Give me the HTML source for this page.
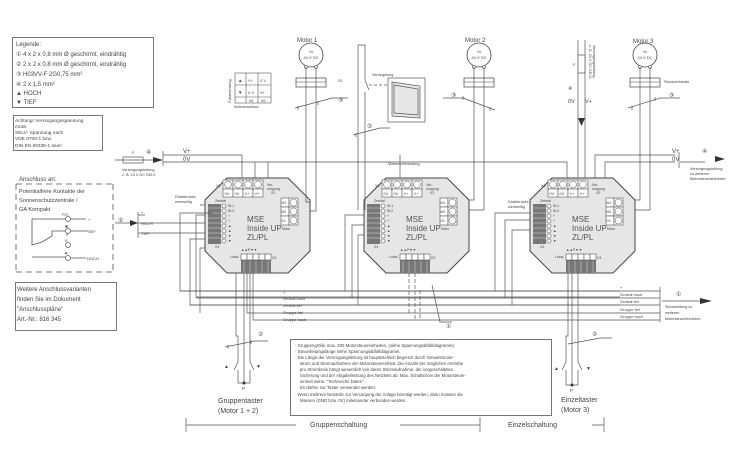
<!DOCTYPE html>
<html><head><meta charset="utf-8"><style>
html,body{margin:0;padding:0;background:#fff;}
svg{display:block;font-family:"Liberation Sans",sans-serif;}
text{fill:#444;}
</style></head><body>
<svg width="750" height="469" viewBox="0 0 750 469" xmlns="http://www.w3.org/2000/svg">
<defs>
<g id="mod">
  <polygon points="22,0 83,0 105,22 105,73 83,95 22,95 0,73 0,22" fill="#e6e6e6" stroke="#444" stroke-width="1"/>
  <text x="11" y="9" font-size="4">X1</text>
  <g fill="#fff" stroke="#555" stroke-width="0.6">
    <rect x="18" y="2" width="10" height="9"/><rect x="28" y="2" width="10" height="9"/><rect x="38" y="2" width="10" height="9"/><rect x="48" y="2" width="10" height="9"/>
    <rect x="18" y="11" width="10" height="8"/><rect x="28" y="11" width="10" height="8"/><rect x="38" y="11" width="10" height="8"/><rect x="48" y="11" width="10" height="8"/>
  </g>
  <g fill="none" stroke="#666" stroke-width="0.6"><circle cx="23" cy="6.5" r="3.5"/><circle cx="33" cy="6.5" r="3.5"/><circle cx="43" cy="6.5" r="3.5"/><circle cx="53" cy="6.5" r="3.5"/></g>
  <text x="19.5" y="17" font-size="4">0V</text><text x="29.5" y="17" font-size="4">0V</text><text x="39.5" y="17" font-size="4">V+</text><text x="49.5" y="17" font-size="4">V+</text>
  <text x="62" y="8" font-size="3.5">Ver-</text><text x="62" y="12" font-size="3.5">sorgung</text><text x="66" y="16" font-size="3.5">X2</text>
  <g fill="#fff" stroke="#555" stroke-width="0.6"><rect x="76" y="20" width="8" height="9"/><rect x="84" y="20" width="9" height="9"/><rect x="76" y="29" width="8" height="9"/><rect x="84" y="29" width="9" height="9"/><rect x="76" y="38" width="8" height="9"/><rect x="84" y="38" width="9" height="9"/></g>
  <g fill="none" stroke="#666" stroke-width="0.6"><circle cx="88.5" cy="24.5" r="3.5"/><circle cx="88.5" cy="33.5" r="3.5"/><circle cx="88.5" cy="42.5" r="3.5"/></g>
  <text x="76.5" y="26" font-size="3.5">M1</text><text x="76.5" y="35" font-size="3.5">M2</text><text x="76.5" y="44" font-size="3.5">0V</text>
  <text x="77" y="52" font-size="3.2">Motor</text>
  <text x="10" y="24" font-size="3.5">Zentral</text>
  <rect x="3" y="26" width="13" height="40" fill="#777"/>
  <g stroke="#ccc" stroke-width="0.6"><line x1="3" y1="30" x2="16" y2="30"/><line x1="3" y1="35" x2="16" y2="35"/><line x1="3" y1="40" x2="16" y2="40"/><line x1="3" y1="45" x2="16" y2="45"/><line x1="3" y1="50" x2="16" y2="50"/><line x1="3" y1="55" x2="16" y2="55"/><line x1="3" y1="60" x2="16" y2="60"/></g>
  <g fill="#fff" stroke="#555" stroke-width="0.6"><circle cx="19" cy="28" r="2"/><circle cx="19" cy="33" r="2"/><circle cx="19" cy="38" r="2"/><circle cx="19" cy="43" r="2"/><circle cx="19" cy="48" r="2"/><circle cx="19" cy="53" r="2"/><circle cx="19" cy="58" r="2"/><circle cx="19" cy="63" r="2"/></g>
  <text x="23" y="29" font-size="3.5">St.1</text><text x="23" y="34" font-size="3.5">St.2</text><text x="23" y="39" font-size="3.5">+</text><text x="23" y="44" font-size="3.5">+</text>
  <text x="23" y="49" font-size="3.5">▲</text><text x="23" y="54" font-size="3.5">▲</text><text x="23" y="59" font-size="3.5">▼</text><text x="23" y="64" font-size="3.5">▼</text>
  <text x="10" y="70" font-size="3.5">X4</text>
  <text x="42" y="44" font-size="8" style="fill:#555">MSE</text><text x="42" y="53" font-size="8" style="fill:#555">Inside UP</text><text x="42" y="62" font-size="8" style="fill:#555">ZL/PL</text>
  <text x="36" y="73" font-size="3.5">▲▲P▼▼</text>
  <text x="25" y="80" font-size="3.5">Lokal</text>
  <rect x="36" y="76" width="30" height="19" fill="#777"/>
  <g fill="#fff" stroke="#555" stroke-width="0.6"><rect x="36" y="76" width="6" height="6"/><rect x="42" y="76" width="6" height="6"/><rect x="48" y="76" width="6" height="6"/><rect x="54" y="76" width="6" height="6"/><rect x="60" y="76" width="6" height="6"/></g>
  <g stroke="#ccc" stroke-width="0.6"><line x1="39" y1="83" x2="39" y2="95"/><line x1="45" y1="83" x2="45" y2="95"/><line x1="51" y1="83" x2="51" y2="95"/><line x1="57" y1="83" x2="57" y2="95"/><line x1="63" y1="83" x2="63" y2="95"/></g>
  <text x="67" y="81" font-size="3.5">X3</text>
</g>
<g id="motor">
  <circle cx="0" cy="0" r="12" fill="#fff" stroke="#444" stroke-width="0.8"/>
  <text x="0" y="-2" font-size="4" text-anchor="middle">M</text>
  <text x="0" y="4" font-size="4" text-anchor="middle">24 V DC</text>
  <circle cx="-5" cy="12" r="1.5" fill="#fff" stroke="#444" stroke-width="0.6"/><circle cx="5" cy="12" r="1.5" fill="#fff" stroke="#444" stroke-width="0.6"/>
  <rect x="-15" y="23" width="30" height="9" fill="#fff" stroke="#444" stroke-width="0.7"/>
  <line x1="-15" y1="27" x2="15" y2="27" stroke="#444" stroke-width="0.5"/>
</g>
</defs>

<g fill="none" stroke="#555" stroke-width="0.8">
<rect x="12.5" y="37.5" width="141" height="70"/>
<rect x="13.5" y="115.5" width="89" height="35"/>
<rect x="15.5" y="282.5" width="101" height="48"/>
<path d="M16 184 H113 M16 272 H113 M16 184 V272 M113 184 V272" stroke-dasharray="6,4"/>
<rect x="290.5" y="339.5" width="261" height="76"/>
<path d="M32 219 H67 M32 219 V245 L42 242 L52 236 M52 236 L52 231 H67 M67 232 V236 M32 257 H67 M67 225 V228"/>
<path d="M70 219 H86 M70 231 H88 M70 258 H86"/>
</g>
<g fill="#fff" stroke="#555" stroke-width="0.7"><circle cx="68" cy="219" r="2.5"/><circle cx="68" cy="231" r="2.5"/><circle cx="68" cy="245" r="2.5"/><circle cx="68" cy="258" r="2.5"/></g>

<text x="16" y="46" font-size="6">Legende:</text>
<text x="16" y="56" font-size="6">① 4 x 2 x 0,8 mm Ø geschirmt, eindrähtig</text>
<text x="16" y="66" font-size="6">② 2 x 2 x 0,8 mm Ø geschirmt, eindrähtig</text>
<text x="16" y="76" font-size="6">③ H03VV-F 2G0,75 mm²</text>
<text x="16" y="86" font-size="6">④ 2 x 1,5 mm²</text>
<text x="16" y="95" font-size="6">▲ HOCH</text>
<text x="16" y="104" font-size="6">▼ TIEF</text>
<text x="15" y="122" font-size="4.8">Achtung! Versorgungsspannung</text>
<text x="15" y="128" font-size="4.8">muss</text>
<text x="15" y="134" font-size="4.8">SELV- Spannung nach</text>
<text x="15" y="140" font-size="4.8">VDE 0700-1 bzw.</text>
<text x="15" y="147" font-size="4.8">DIN EN 60335-1 sein!</text>
<text x="19" y="181" font-size="6">Anschluss an:</text>
<text x="19" y="193" font-size="5.6">Potentialfreie Kontakte der</text>
<text x="19" y="202" font-size="5.6">Sonnenschutzzentrale /</text>
<text x="19" y="211" font-size="5.6">GA Kompakt</text>
<text x="62" y="216" font-size="4">P/C</text><text x="88" y="221" font-size="4">+</text>
<text x="64" y="228" font-size="4">▼</text><text x="87" y="233" font-size="4">TIEF</text>
<text x="65" y="242" font-size="4">E</text><text x="64" y="254" font-size="4">▲</text><text x="87" y="260" font-size="4">HOCH</text>
<text x="17" y="291" font-size="6">Weitere Anschlussvarianten</text>
<text x="17" y="301" font-size="6">finden Sie im Dokument</text>
<text x="17" y="311" font-size="6">"Anschlusspläne"</text>
<text x="17" y="321" font-size="6">Art.-Nr.: 816 345</text>

<g fill="none" stroke="#555" stroke-width="0.6"><rect x="235" y="73" width="36" height="30"/><path d="M235 85 H271 M235 97 H271 M246 73 V103 M258 73 V103"/></g>
<text x="238" y="82" font-size="4.5">▲</text><text x="248" y="82" font-size="4">V+</text><text x="260" y="82" font-size="4">0 V</text>
<text x="238" y="94" font-size="4.5">▼</text><text x="248" y="94" font-size="4">0 V</text><text x="260" y="94" font-size="4">V+</text>
<text x="249" y="102" font-size="3.5">M1</text><text x="261" y="102" font-size="3.5">M2</text>
<text x="234" y="108" font-size="3.5">Motoranschluss</text>
<text transform="translate(231,103) rotate(-90)" font-size="4">Fahrtrichtung</text>

<text x="297" y="42" font-size="6">Motor 1</text>
<use href="#motor" x="311" y="55"/>
<text x="465" y="42" font-size="6">Motor 2</text>
<use href="#motor" x="479" y="55"/>
<text x="633" y="43" font-size="6">Motor 3</text>
<use href="#motor" x="645" y="55"/>
<text x="664" y="83" font-size="3.8">Steckverbinder</text>

<use href="#mod" x="205" y="178"/>
<use href="#mod" x="364" y="178"/>
<use href="#mod" x="530" y="178"/>

<g fill="none" stroke="#555" stroke-width="0.7">
<path d="M306 67 V202 H310 M316 67 V211 H310"/>
<path d="M474 67 V200 H469 M484 67 V210 H469"/>
<path d="M640 67 V200 H635 M650 67 V210 H635"/>
<path d="M295 108 L332 98 H348 M298 106 V110 M318 101 V105"/>
<path d="M443 98 H463 L495 110 M463 96 V100 M490 107 V111"/>
<path d="M628 108 L660 98 H680 M632 106 V110 M655 97 V101"/>
<path d="M358 45 V210 M358 45 H365 V80 M365 92 V210 M365 80 L369 90"/>
<path d="M369 85 H392" stroke-dasharray="3,2"/>
<path d="M353 135 L380 128 H390 M356 133 V137"/>
<rect x="388" y="78" width="37" height="44" fill="#fff"/>
<path d="M392 82 L420 86 V118 L392 116 Z" fill="#e6e6e6"/>
<path d="M394 85 L418 89 V115 L394 113 Z"/>
<rect x="123" y="157" width="20" height="6" fill="#fff"/>
<path d="M115 160 H160 M163 151 V166 M163 155 H242 M163 162 H268"/>
<path d="M242 155 V178 M268 162 V178 M255 162 V178"/>
<path d="M268 162 H567 V178"/>
<path d="M400 155 V178"/>
<path d="M578 40 V178 M585 40 V178"/>
<rect x="578" y="55" width="7" height="18" fill="#fff"/>
<path d="M595 178 V155 H675 M605 178 V162 H675 M679 152 V168 M680 162 H705"/>
<path d="M115 223 H131 M138 212 V238 M138 223 H205 M138 233 H205 M138 215 H145"/>
<path d="M205 215 H196 V297 H620 M205 205 H200 M212 213 H180 V291 H620"/>
<path d="M205 239 H190 V305 H620 M205 248 H200 V313"/>
<path d="M180 291 H660 M190 305 H660 M196 298 H660"/>
<path d="M247 273 V313 H660 M253 273 V320 H660"/>
<path d="M364 215 H345 V291 M364 225 H352 V298 M364 235 H358 V305"/>
<path d="M530 213 H495 V291 M530 220 H505 V298 M530 230 H512 V305"/>
<path d="M409 273 V313 M415 273 V320" stroke-dasharray="4,2"/>
<path d="M420 290 V320" stroke-dasharray="4,2"/>
<path d="M660 287 V322 M662 301 H700"/>
<path d="M236 273 V336 H238 V362 M244 273 V383 M250 273 V362"/>
<path d="M238 362 L234 370 M250 362 L254 370 M238 370 V383 H250 V370"/>
<path d="M225 347 L255 341 H268 M228 345 V349 M251 340 V344"/>
<path d="M568 273 V336 H566 V362 M572 273 V385 M578 273 V362"/>
<path d="M566 362 L562 370 M578 362 L582 370 M566 370 V385 H578 V370"/>
<path d="M568 344 L600 338 H612"/>
<path d="M432 285 L440 322 H452"/>
<path d="M186 418 V432 M186 425 H296 M400 425 H480 M480 417 V432 M592 425 H604 M604 417 V432"/>
</g>
<polygon points="153,157 163,160 153,163" fill="#333"/>
<polygon points="130,220 138,223 130,226" fill="#333"/>
<polygon points="700,298 712,301 700,304" fill="#333"/>
<polygon points="715,156 725,159 715,162" fill="#333"/>
<polygon points="578,118 585,118 581.5,126" fill="#333"/>
<circle cx="244" cy="383" r="1.5" fill="#333"/><circle cx="572" cy="385" r="1.5" fill="#333"/>

<text x="132" y="154" font-size="4">F</text><text x="146" y="154" font-size="6">④</text>
<text x="183" y="153" font-size="6">V+</text><text x="183" y="161" font-size="6">0V</text>
<text x="122" y="171" font-size="3.8">Versorgungsleitung</text><text x="122" y="176" font-size="3.8">z. B. 24 V DC SELV</text>
<text x="118" y="222" font-size="6">②</text>
<text x="141" y="214" font-size="4">+</text><text x="141" y="225" font-size="4">HOCH</text><text x="141" y="235" font-size="4">TIEF</text>
<text x="175" y="198" font-size="3.8">Drahtbrücke</text><text x="175" y="203" font-size="3.8">werkseitig</text>
<text x="508" y="203" font-size="3.8">Drahtbrücke</text><text x="508" y="208" font-size="3.8">werkseitig</text>
<text x="338" y="82" font-size="3.8">S1</text>
<text x="372" y="76" font-size="3.8">Verriegelung</text>
<text x="338" y="102" font-size="6">③</text><text x="451" y="97" font-size="6">③</text><text x="669" y="97" font-size="6">③</text>
<text x="367" y="128" font-size="6">②</text>
<text x="388" y="165" font-size="4">Masseverbindung</text>
<text x="568" y="103" font-size="5.5">0V</text><text x="585" y="103" font-size="5.5">V+</text>
<text x="568" y="90" font-size="5">④</text>
<text x="573" y="66" font-size="4">F</text>
<text transform="translate(593,45) rotate(90)" font-size="3.8">Versorgungsleitung</text>
<text transform="translate(589,45) rotate(90)" font-size="3.8">z. B. 24 V DC SELV</text>
<text x="672" y="153" font-size="6">V+</text><text x="672" y="161" font-size="6">0V</text>
<text x="702" y="153" font-size="6">④</text>
<text x="690" y="170" font-size="3.8">Versorgungsleitung</text><text x="690" y="175" font-size="3.8">zu weiteren</text><text x="690" y="180" font-size="3.8">Motorsteuereinheiten</text>
<text x="620" y="289" font-size="4">+</text>
<text x="620" y="296" font-size="4">Zentral hoch</text><text x="620" y="303" font-size="4">Zentral tief</text>
<text x="620" y="311" font-size="4">Gruppe tief</text><text x="620" y="318" font-size="4">Gruppe hoch</text>
<text x="283" y="294" font-size="4">+</text>
<text x="283" y="300" font-size="4">Zentral hoch</text><text x="283" y="307" font-size="4">Zentral tief</text>
<text x="283" y="314" font-size="4">Gruppe tief</text><text x="283" y="321" font-size="4">Gruppe hoch</text>
<text x="676" y="296" font-size="6">①</text>
<text x="665" y="308" font-size="3.8">Steuerleitung zu</text><text x="665" y="314" font-size="3.8">weiteren</text><text x="665" y="320" font-size="3.8">Motorsteuereinheiten</text>
<text x="446" y="328" font-size="6">①</text>
<text x="258" y="336" font-size="6">②</text><text x="592" y="336" font-size="6">②</text>
<text x="224" y="368" font-size="5">▲</text><text x="256" y="368" font-size="5">▼</text>
<text x="554" y="370" font-size="5">▲</text><text x="586" y="370" font-size="5">▼</text>
<text x="242" y="390" font-size="4.5">P</text><text x="570" y="392" font-size="4.5">P</text>
<text x="218" y="403" font-size="7">Gruppentaster</text><text x="218" y="413" font-size="7">(Motor 1 + 2)</text>
<text x="561" y="402" font-size="7">Einzeltaster</text><text x="561" y="412" font-size="7">(Motor 3)</text>
<text x="310" y="427" font-size="7">Gruppenschaltung</text>
<text x="508" y="427" font-size="7">Einzelschaltung</text>
<g font-size="4.3">
<text x="295" y="347">·  Gruppengröße max. 200 Motorsteuereinheiten, (siehe Spannungsabfalldiagramm).</text>
<text x="295" y="353">·  Steuerleitungslänge siehe Spannungsabfalldiagramm.</text>
<text x="295" y="359">·  Die Länge der Versorgungsleitung ist hauptsächlich begrenzt durch Gesamtmotor-</text>
<text x="300" y="365">strom und Stromaufnahme der Motorsteuereinheit. Die Anzahl der möglichen Antriebe</text>
<text x="300" y="371">pro Stromkreis hängt wesentlich von deren Stromaufnahme, der vorgeschalteten</text>
<text x="300" y="377">Sicherung und der Abgabeleistung des Netzteils ab. Max. Schaltstrom der Motorsteuer-</text>
<text x="300" y="383">einheit siehe: "Technische Daten".</text>
<text x="300" y="389">Es dürfen nur Taster verwendet werden.</text>
<text x="295" y="396">·  Wenn mehrere Netzteile zur Versorgung der Anlage benötigt werden, dann müssen die</text>
<text x="300" y="402">Massen (GND bzw. 0V) miteinander verbunden werden.</text>
</g>
</svg>
</body></html>
